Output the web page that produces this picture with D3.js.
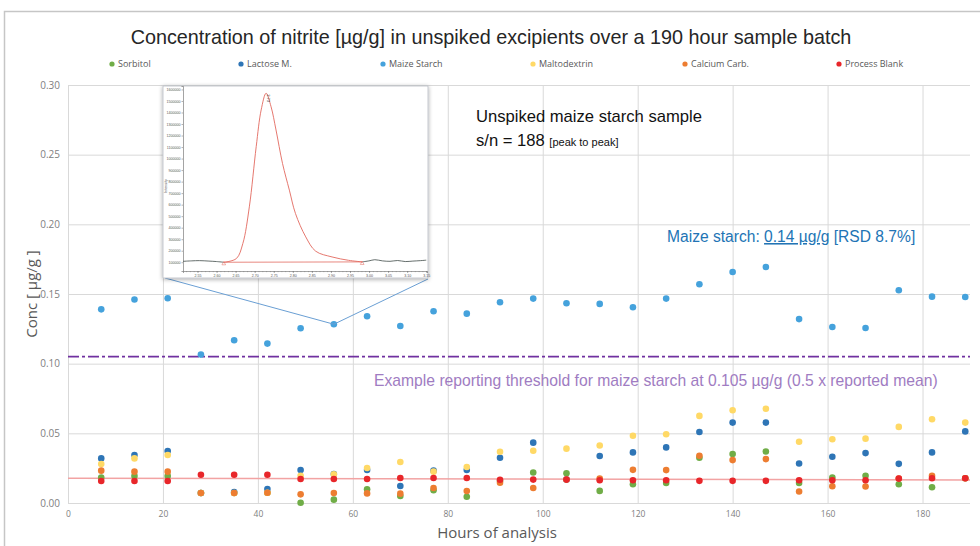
<!DOCTYPE html>
<html>
<head>
<meta charset="utf-8">
<script src="https://cdn.jsdelivr.net/npm/d3@7/dist/d3.min.js"></script>
<style>
  body { margin: 0; background: #fff; }
  svg text { font-family: "Liberation Sans", Arial, sans-serif; }
</style>
</head>
<body>
<svg id="chart" width="980" height="546"></svg>
<script>
(() => {

// sample times (hours) and measured nitrite, ug/g
var hours = [7, 14, 21, 28, 35, 42, 49, 56, 63, 70, 77, 84, 91, 98, 105, 112, 119, 126, 133, 140, 147, 154, 161, 168, 175, 182, 189];

var sorbitol = [0.0182, 0.0194, 0.0194, 0.0072, 0.0072, 0.0074, 0.0002, 0.0024, 0.0098, 0.0050, 0.0091, 0.0045, 0.0160,
                0.0219, 0.0214, 0.0087, 0.0135, 0.0144, 0.0325, 0.0351, 0.0370, 0.0144, 0.0183, 0.0195, 0.0135, 0.0113, 0.0178];
var lactose  = [0.0320, 0.0344, 0.0373, 0.0072, 0.0079, 0.0100, 0.0237, 0.0208, 0.0237, 0.0122, 0.0232, 0.0237, 0.0325,
                0.0433, 0.0168, 0.0337, 0.0363, 0.0399, 0.0510, 0.0577, 0.0577, 0.0284, 0.0332, 0.0358, 0.0281, 0.0363, 0.0514];
var maize    = [0.1390, 0.1460, 0.1470, 0.1065, 0.1168, 0.1144, 0.1254, 0.1283, 0.1340, 0.1270, 0.1376, 0.1359, 0.1441,
                0.1467, 0.1434, 0.1429, 0.1405, 0.1467, 0.1570, 0.1658, 0.1694, 0.1320, 0.1263, 0.1256, 0.1527, 0.1481, 0.1479];
var malto    = [0.0280, 0.0320, 0.0344, 0.0072, 0.0072, 0.0074, 0.0196, 0.0206, 0.0251, 0.0294, 0.0225, 0.0258, 0.0368,
                0.0375, 0.0390, 0.0413, 0.0483, 0.0493, 0.0625, 0.0666, 0.0676, 0.0440, 0.0457, 0.0462, 0.0546, 0.0601, 0.0577];
var calcium  = [0.0232, 0.0225, 0.0225, 0.0072, 0.0072, 0.0074, 0.0062, 0.0072, 0.0069, 0.0067, 0.0108, 0.0086, 0.0146,
                0.0108, 0.0168, 0.0175, 0.0238, 0.0236, 0.0339, 0.0308, 0.0315, 0.0082, 0.0120, 0.0118, 0.0175, 0.0195, 0.0178];
var blank    = [0.0158, 0.0158, 0.0158, 0.0203, 0.0203, 0.0203, 0.0172, 0.0172, 0.0172, 0.0179, 0.0179, 0.0179, 0.0167,
                0.0168, 0.0168, 0.0163, 0.0163, 0.0163, 0.0159, 0.0159, 0.0159, 0.0163, 0.0163, 0.0163, 0.0175, 0.0178, 0.0178];

var seriesNames = ["Sorbitol", "Lactose M.", "Maize Starch", "Maltodextrin", "Calcium Carb.", "Process Blank"];
var seriesValues = [sorbitol, lactose, maize, malto, calcium, blank];
var threshold = 0.105;

var yTicks = [0, 0.05, 0.10, 0.15, 0.20, 0.25, 0.30];
var xTicks = [0, 20, 40, 60, 80, 100, 120, 140, 160, 180];

// inset chromatogram (retention time in min, intensity)
var peakTime   = [2.619, 2.652, 2.669, 2.686, 2.704, 2.717, 2.730, 2.743, 2.756, 2.773, 2.791, 2.807, 2.834, 2.860, 2.903, 2.946, 2.982];
var peakSignal = [100000, 132000, 263000, 581000, 1103000, 1422000, 1567000, 1450000, 1248000, 958000, 726000, 523000, 320000, 196000, 146000, 117000, 103000];
var baseTimeA   = [2.512, 2.535, 2.555, 2.580, 2.600, 2.619];
var baseSignalA = [108000, 112000, 114000, 110000, 106000, 100000];
var baseTimeB   = [2.982, 3.000, 3.015, 3.035, 3.055, 3.075, 3.095, 3.115, 3.135, 3.150];
var baseSignalB = [103000, 112000, 122000, 112000, 108000, 115000, 106000, 110000, 114000, 118000];
var insetYTicks = [100000, 200000, 300000, 400000, 500000, 600000, 700000, 800000, 900000, 1000000, 1100000, 1200000, 1300000, 1400000, 1500000, 1600000];
var insetXTicks = [2.55, 2.60, 2.65, 2.70, 2.75, 2.80, 2.85, 2.90, 2.95, 3.00, 3.05, 3.10, 3.15];

var colors = ["#70ad47", "#2e75b6", "#45a2dc", "#ffd966", "#ed7d31", "#e8262a"];

var svg = d3.select("svg"),
    margin = {top: 85, right: 10, bottom: 43, left: 68},
    width = +svg.attr("width") - margin.left - margin.right,
    height = +svg.attr("height") - margin.top - margin.bottom;

var defs = svg.append("defs");
var shadow = defs.append("filter").attr("id", "shadow")
    .attr("x", "-10%").attr("y", "-10%").attr("width", "120%").attr("height", "120%");
shadow.append("feDropShadow").attr("dx", 0).attr("dy", 1).attr("stdDeviation", 2.2)
    .attr("flood-color", "#000").attr("flood-opacity", 0.35);

// outer chart frame
svg.append("rect")
    .attr("x", 4.5).attr("y", 11.5).attr("width", 1000).attr("height", 600)
    .attr("fill", "none").attr("stroke", "#c6c6c6").attr("stroke-width", 1.5);

svg.append("text")
    .attr("x", 491).attr("y", 44)
    .attr("text-anchor", "middle")
    .attr("font-size", 19.8).attr("fill", "#262626")
    .text("Concentration of nitrite [µg/g] in unspiked excipients over a 190 hour sample batch");

var g = svg.append("g").attr("transform", "translate(" + margin.left + "," + margin.top + ")");

var x = d3.scaleLinear().domain([0, 190]).range([0, width]);
var y = d3.scaleLinear().domain([0, 0.30]).range([height, 0]);

// grid + axes
var yAxis = g.append("g")
    .call(d3.axisLeft(y).tickValues(yTicks).tickSize(-width).tickPadding(8).tickFormat(d3.format(".2f")));
var xAxis = g.append("g")
    .attr("transform", "translate(0," + height + ")")
    .call(d3.axisBottom(x).tickValues(xTicks).tickSize(-height).tickPadding(8).tickFormat(d3.format("d")));

[yAxis, xAxis].forEach(function(a) {
  a.select(".domain").remove();
  a.selectAll("line").attr("stroke", "#d9d9d9").attr("stroke-width", 1);
  a.selectAll("text").attr("fill", "#808080")
    .style("font-family", "'Open Sans', sans-serif");
});
yAxis.selectAll("text").attr("font-size", 10);
xAxis.selectAll("text").attr("font-size", 8.5);

// trendline of the process blank (least squares)
var mx = d3.mean(hours), my = d3.mean(blank);
var slope = d3.sum(hours, function(h, i) { return (h - mx) * (blank[i] - my); }) /
            d3.sum(hours, function(h) { return (h - mx) * (h - mx); });
var icpt = my - slope * mx;
g.append("line")
    .attr("x1", x(0)).attr("y1", y(icpt))
    .attr("x2", x(190)).attr("y2", y(icpt + slope * 190))
    .attr("stroke", "#f2a3a3").attr("stroke-width", 1.5);

// reporting threshold
g.append("line")
    .attr("x1", x(0)).attr("x2", x(190))
    .attr("y1", y(threshold)).attr("y2", y(threshold))
    .attr("stroke", "#7030a0").attr("stroke-width", 1.8)
    .attr("stroke-dasharray", "11,3,3,3");

// points, one group per series (later series on top)
g.append("g")
  .selectAll("g")
  .data(seriesValues)
  .enter().append("g")
    .attr("fill", function(d, i) { return colors[i]; })
  .selectAll("circle")
    .data(function(d) { return d; })
    .enter().append("circle")
    .attr("cx", function(d, i) { return x(hours[i]); })
    .attr("cy", function(d) { return y(d); })
    .attr("r", 3.3);

// legend
var legendX = [112, 241, 383, 533, 685, 839];
var legend = svg.append("g")
    .attr("font-size", 9)
  .selectAll("g")
  .data(seriesNames)
  .enter().append("g")
    .attr("transform", function(d, i) { return "translate(" + legendX[i] + ",64)"; });
legend.append("circle").attr("r", 2.6).attr("fill", function(d, i) { return colors[i]; });
legend.append("text").attr("x", 6).attr("dy", "0.35em").attr("fill", "#595959")
    .style("font-family", "'Open Sans', sans-serif")
    .text(function(d) { return d; });

// axis titles
svg.append("text")
    .attr("x", 497).attr("y", 538)
    .attr("text-anchor", "middle").attr("font-size", 15).attr("fill", "#595959")
    .style("font-family", "'Open Sans', sans-serif")
    .text("Hours of analysis");
svg.append("text")
    .attr("transform", "translate(37," + (margin.top + height / 2) + ") rotate(-90)")
    .attr("text-anchor", "middle").attr("font-size", 15).attr("fill", "#595959")
    .style("font-family", "'Open Sans', sans-serif")
    .text("Conc [ µg/g ]");

// annotations
svg.append("text").attr("x", 476).attr("y", 122).attr("font-size", 16.6).attr("fill", "#111")
    .text("Unspiked maize starch sample");
var sn = svg.append("text").attr("x", 476).attr("y", 146).attr("font-size", 16.6).attr("fill", "#111");
sn.append("tspan").text("s/n = 188 ");
sn.append("tspan").attr("font-size", 11).text("[peak to peak]");

var ms = svg.append("text").attr("x", 667).attr("y", 242).attr("font-size", 15.6).attr("fill", "#2274b5");
ms.append("tspan").text("Maize starch: ");
ms.append("tspan").style("text-decoration", "underline").text("0.14 µg/g");
ms.append("tspan").text(" [RSD 8.7%]");

svg.append("text").attr("x", 374).attr("y", 386).attr("font-size", 15.7).attr("fill", "#a07cc2")
    .text("Example reporting threshold for maize starch at 0.105 µg/g (0.5 x reported mean)");

// callout lines from inset to the 56 h maize point
var px = margin.left + x(hours[7]), py = margin.top + y(maize[7]);
svg.append("path")
    .attr("d", "M165,278L" + px + "," + py + "L428,279")
    .attr("fill", "none").attr("stroke", "#6a9fd4").attr("stroke-width", 1);

// inset chromatogram
var inset = svg.append("g");
inset.append("rect")
    .attr("x", 163).attr("y", 86).attr("width", 265).attr("height", 192)
    .attr("fill", "#fff").attr("stroke", "#b8bcc4").attr("stroke-width", 0.8)
    .attr("filter", "url(#shadow)");

var cx = d3.scaleLinear().domain([2.512, 3.152]).range([183, 427]);
var cy = d3.scaleLinear().domain([24000, 1630000]).range([271, 86]);

inset.append("g")
    .attr("transform", "translate(0,271)")
    .call(d3.axisBottom(cx).tickValues(insetXTicks).tickSize(2).tickPadding(1.5).tickFormat(d3.format(".2f")))
    .call(function(a) {
      a.select(".domain").attr("stroke", "#666").attr("stroke-width", 0.6);
      a.selectAll("line").attr("stroke", "#666").attr("stroke-width", 0.5);
      a.selectAll("text").attr("font-size", 3.6).attr("fill", "#555");
    });
inset.append("g")
    .attr("transform", "translate(0,271)")
    .call(d3.axisBottom(cx).ticks(64).tickSize(1.2).tickFormat(""))
    .call(function(a) {
      a.select(".domain").remove();
      a.selectAll("line").attr("stroke", "#777").attr("stroke-width", 0.4);
    });
inset.append("g")
    .attr("transform", "translate(183,0)")
    .call(d3.axisLeft(cy).tickValues(insetYTicks).tickSize(1.5).tickPadding(1).tickFormat(d3.format("d")))
    .call(function(a) {
      a.select(".domain").attr("stroke", "#666").attr("stroke-width", 0.6);
      a.selectAll("line").attr("stroke", "#666").attr("stroke-width", 0.5);
      a.selectAll("text").attr("font-size", 3.6).attr("fill", "#555");
    });
inset.append("text")
    .attr("transform", "translate(167,186) rotate(-90)")
    .attr("text-anchor", "middle").attr("font-size", 3.6).attr("fill", "#444")
    .text("Intensity");

var trace = d3.line().x(function(d) { return cx(d[0]); }).y(function(d) { return cy(d[1]); }).curve(d3.curveCatmullRom);
inset.append("path")
    .attr("d", trace(d3.zip(baseTimeA, baseSignalA)))
    .attr("fill", "none").attr("stroke", "#3f4a48").attr("stroke-width", 0.8);
inset.append("path")
    .attr("d", trace(d3.zip(baseTimeB, baseSignalB)))
    .attr("fill", "none").attr("stroke", "#3f4a48").attr("stroke-width", 0.8);
inset.append("line")
    .attr("x1", cx(peakTime[0])).attr("y1", cy(peakSignal[0]))
    .attr("x2", cx(peakTime[peakTime.length - 1])).attr("y2", cy(peakSignal[peakSignal.length - 1]))
    .attr("stroke", "#e2695f").attr("stroke-width", 0.8);
inset.append("path")
    .attr("d", trace(d3.zip(peakTime, peakSignal)))
    .attr("fill", "none").attr("stroke", "#e2695f").attr("stroke-width", 0.9);
[0, peakTime.length - 1].forEach(function(i) {
  inset.append("path")
      .attr("transform", "translate(" + cx(peakTime[i]) + "," + (cy(peakSignal[i]) + 1.5) + ")")
      .attr("d", d3.symbol(d3.symbolTriangle, 6)())
      .attr("fill", "none").attr("stroke", "#e2695f").attr("stroke-width", 0.5);
});
inset.append("text")
    .attr("transform", "translate(" + (cx(2.730) + 1) + "," + (cy(1567000) + 1) + ") rotate(90)")
    .attr("font-size", 4).attr("fill", "#333")
    .text("2.73");

})();
</script>
</body>
</html>
